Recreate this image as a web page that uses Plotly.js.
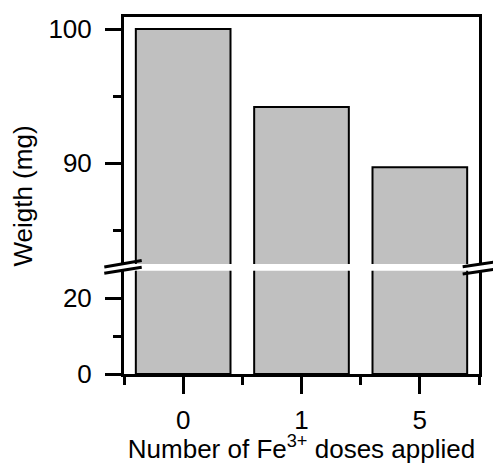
<!DOCTYPE html>
<html>
<head>
<meta charset="utf-8">
<script src="https://cdn.plot.ly/plotly-3.0.1.min.js"></script>
<style>html,body{margin:0;padding:0;background:#fff;}#chart{width:493px;height:464px;}</style>
</head>
<body>
<div id="chart"></div>
<script>
// Data
const categories = ["0", "1", "5"];
const weights = [100, 94.2, 89.7];
const lowerTicks = [0, 20];
const upperTicks = [90, 100];
const xTitle = "Number of Fe<sup>3+</sup> doses applied";
const yTitle = "Weigth (mg)";

const positions = categories.map((c, i) => i);
const boundaries = positions.map(p => p - 0.5).concat([positions[positions.length - 1] + 0.5]);

const font = {family: "Liberation Sans, Arial, sans-serif", size: 26, color: "#000"};
const barStyle = {color: "#c0c0c0", line: {color: "#000", width: 2}};

const traces = [
  {type: "bar", x: positions, y: weights, width: 0.8, marker: barStyle, xaxis: "x", yaxis: "y", hoverinfo: "none"},
  {type: "bar", x: positions, y: weights, width: 0.8, marker: barStyle, xaxis: "x2", yaxis: "y2", hoverinfo: "none"}
];

const brk = (x0, y0, x1, y1) => ({type: "line", xref: "paper", yref: "paper", x0, y0, x1, y1, line: {color: "#000", width: 3}});

const layout = {
  width: 493, height: 464,
  margin: {l: 124, r: 14, t: 17, b: 90},
  paper_bgcolor: "#fff", plot_bgcolor: "#fff",
  showlegend: false,
  font: font,
  bargap: 0.2,
  xaxis: {
    anchor: "y", range: [-0.5, 2.5], tickmode: "array", tickvals: positions, ticktext: categories,
    showline: true, linewidth: 3, linecolor: "#000", ticks: "outside", ticklen: 17, tickwidth: 3, tickcolor: "#000",
    showgrid: false, zeroline: false, tickfont: font, ticklabelstandoff: 4,
    minor: {tickmode: "array", tickvals: boundaries, ticks: "outside", ticklen: 8, tickwidth: 3, tickcolor: "#000", showgrid: false},
    title: {text: xTitle, font: font, standoff: 6}
  },
  xaxis2: {
    anchor: "y2", side: "top", range: [-0.5, 2.5], showline: true, linewidth: 3, linecolor: "#000",
    ticks: "", showticklabels: false, showgrid: false, zeroline: false
  },
  yaxis: {
    domain: [0, 0.2894], range: [0, 27.3], tickmode: "array", tickvals: lowerTicks,
    showline: true, mirror: true, linewidth: 3, linecolor: "#000", ticks: "outside", ticklen: 16, tickwidth: 3, tickcolor: "#000",
    showgrid: false, zeroline: false, tickfont: font, ticklabelstandoff: 8,
    minor: {dtick: 10, tick0: 0, ticks: "outside", ticklen: 8, tickwidth: 3, tickcolor: "#000", showgrid: false}
  },
  yaxis2: {
    domain: [0.308, 1], range: [82.5, 100.9], tickmode: "array", tickvals: upperTicks, anchor: "x2",
    showline: true, mirror: true, linewidth: 3, linecolor: "#000", ticks: "outside", ticklen: 16, tickwidth: 3, tickcolor: "#000",
    showgrid: false, zeroline: false, tickfont: font, ticklabelstandoff: 8,
    minor: {dtick: 5, tick0: 0, ticks: "outside", ticklen: 8, tickwidth: 3, tickcolor: "#000", showgrid: false}
  },
  annotations: [{
    text: yTitle, xref: "paper", yref: "paper", x: -0.2845, y: 0.497, xanchor: "center", yanchor: "middle",
    textangle: -90, showarrow: false, font: font
  }],
  shapes: [
    brk(-0.0555, 0.2997, 0.0499, 0.3179),
    brk(-0.0555, 0.2821, 0.0499, 0.2992),
    brk(0.954, 0.3006, 1.045, 0.3137),
    brk(0.954, 0.2801, 1.045, 0.2933)
  ]
};

Plotly.newPlot("chart", traces, layout, {staticPlot: true, displayModeBar: false});
</script>
</body>
</html>
